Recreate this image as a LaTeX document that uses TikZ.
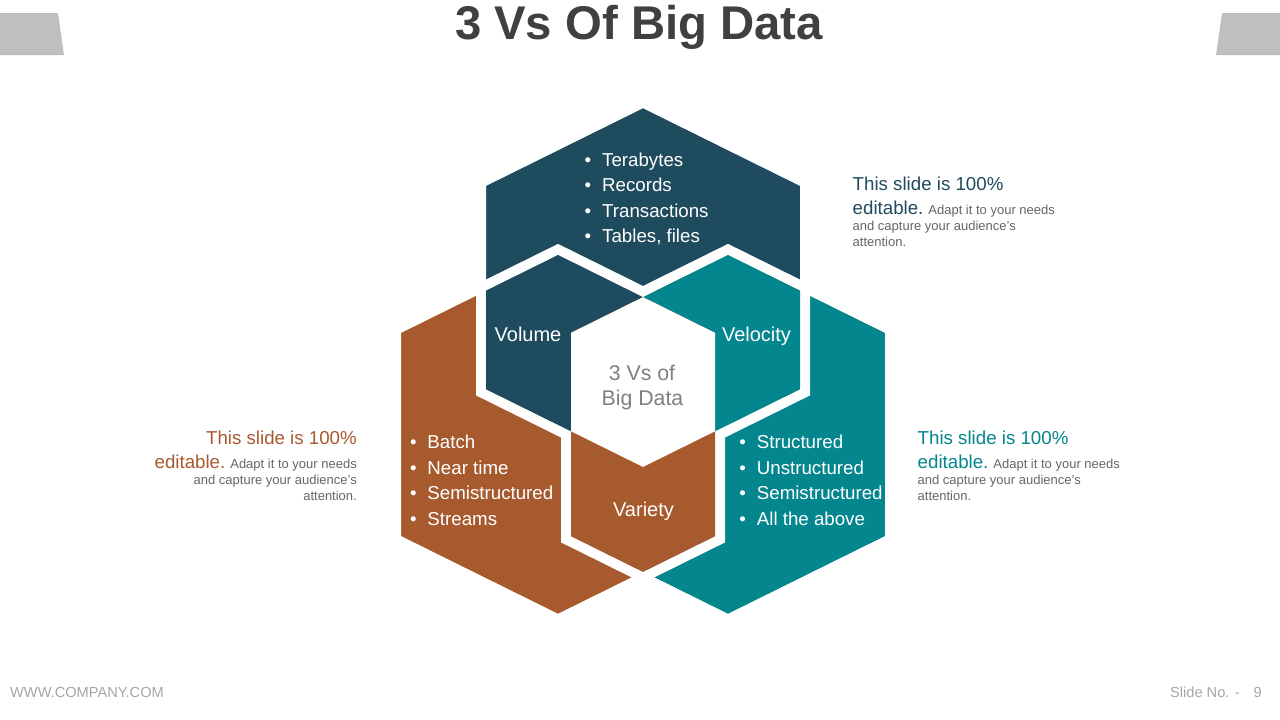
\documentclass[tikz,border=0pt]{standalone}
\usepackage{fontspec}
\setmainfont{Liberation Sans}
\definecolor{vblue}{HTML}{1F4B5E}
\definecolor{vteal}{HTML}{03868E}
\definecolor{vbrown}{HTML}{A85A2F}
\definecolor{titlegray}{HTML}{404040}
\definecolor{descgray}{HTML}{666666}
\definecolor{centergray}{HTML}{808080}
\definecolor{footgray}{HTML}{A6A6A6}
\definecolor{tabgray}{HTML}{BFBFBF}
\tikzset{
  bul/.style={anchor=base west, text=white, inner sep=0pt, font=\fontsize{18.7}{22}\selectfont},
  vlabel/.style={anchor=base, text=white, inner sep=0pt, font=\fontsize{20}{24}\selectfont},
  ctext/.style={anchor=base, text=centergray, inner sep=0pt, font=\fontsize{21.3}{25}\selectfont},
  bigdesc/.style={inner sep=0pt, font=\fontsize{18.7}{22}\selectfont},
  smalldesc/.style={inner sep=0pt, text=descgray, font=\fontsize{13}{16}\selectfont},
  gapline/.style={draw=white, line width=10pt, line join=miter},
  foot/.style={inner sep=0pt, text=footgray, font=\fontsize{14.6}{17}\selectfont},
  tab/.style={fill=tabgray}
}
% true hexagon and hexagon inset by half the gap (5px)
\def\hexat#1#2{(#1,#2-185) -- (#1+162,#2-104.8) -- (#1+162,#2+104.8) -- (#1,#2+185) -- (#1-162,#2+104.8) -- (#1-162,#2-104.8) -- cycle}
\def\hexin#1#2{(#1,#2-179.42) -- (#1+157,#2-101.69) -- (#1+157,#2+101.69) -- (#1,#2+179.42) -- (#1-157,#2+101.69) -- (#1-157,#2-101.69) -- cycle}
\newcommand\bx[1]{\makebox[17.5pt][l]{\textbullet}#1}
\newcommand\editline[2]{{\fontsize{18.7}{22}\selectfont\color{#1}editable.}\hspace{5pt}{\fontsize{13}{16}\selectfont\color{descgray}#2}}
\begin{document}
\begin{tikzpicture}[x=1pt,y=-1pt]
\useasboundingbox (0,0) rectangle (1280,720);
\fill[white] (0,0) rectangle (1280,720);
% header tabs
\fill[tab] (0,13) -- (58,13) -- (64,55) -- (0,55) -- cycle;
\fill[tab] (1222,13) -- (1280,13) -- (1280,55) -- (1216,55) -- cycle;
\node[anchor=base, inner sep=0pt, text=titlegray, font=\fontsize{47.3}{56}\selectfont\bfseries] (title) at (639,39.5) {3 Vs Of Big Data};
% hexagon venn: single-set regions
\fill[vteal] \hexin{728}{434.5};
\fill[vbrown] \hexin{558}{434.5};
\fill[vblue] \hexin{643}{287.5};
\draw[gapline] \hexat{643}{287.5};
\draw[gapline] \hexat{558}{434.5};
\draw[gapline] \hexat{728}{434.5};
% pairwise regions (reaching up to the centre)
\begin{scope}
  \clip \hexin{643}{287.5};
  \clip \hexin{558}{434.5};
  \fill[vblue] (300,100) rectangle (1000,650);
\end{scope}
\begin{scope}
  \clip \hexin{643}{287.5};
  \clip \hexin{728}{434.5};
  \fill[vteal] (300,100) rectangle (1000,650);
\end{scope}
\begin{scope}
  \clip \hexin{558}{434.5};
  \clip \hexin{728}{434.5};
  \fill[vbrown] (300,100) rectangle (1000,650);
  \clip \hexin{643}{287.5};
  \fill[white] (300,100) rectangle (1000,650);
\end{scope}
% bullet lists
\node[bul] (t1) at (584.5,166) {\bx{Terabytes}};
\node[bul] (t2) at (584.5,191.6) {\bx{Records}};
\node[bul] (t3) at (584.5,217.2) {\bx{Transactions}};
\node[bul] (t4) at (584.5,242.8) {\bx{Tables, files}};
\node[bul] (l1) at (409.8,448.3) {\bx{Batch}};
\node[bul] (l2) at (409.8,474.1) {\bx{Near time}};
\node[bul] (l3) at (409.8,499.9) {\bx{Semistructured}};
\node[bul] (l4) at (409.8,525.7) {\bx{Streams}};
\node[bul] (r1) at (739.2,448.3) {\bx{Structured}};
\node[bul] (r2) at (739.2,474.1) {\bx{Unstructured}};
\node[bul] (r3) at (739.2,499.9) {\bx{Semistructured}};
\node[bul] (r4) at (739.2,525.7) {\bx{All the above}};
% labels
\node[vlabel] (volume) at (528,341.7) {Volume};
\node[vlabel] (velocity) at (756.5,341.7) {Velocity};
\node[vlabel] (variety) at (643.5,516.5) {Variety};
\node[ctext] (c1) at (642,380) {3 Vs of};
\node[ctext] (c2) at (642.5,405) {Big Data};
% descriptions: upper right
\node[bigdesc, anchor=base west, text=vblue] (ua) at (852.5,190.7) {This slide is 100\%};
\node[anchor=base west, inner sep=0pt] (ub) at (852.5,214.5) {\editline{vblue}{Adapt it to your needs}};
\node[smalldesc, anchor=base west] (uc) at (852.5,230.5) {and capture your audience’s};
\node[smalldesc, anchor=base west] (ud) at (852.5,246.5) {attention.};
% left
\node[bigdesc, anchor=base east, text=vbrown] (la) at (357,444.7) {This slide is 100\%};
\node[anchor=base east, inner sep=0pt] (lb) at (357,468.5) {\editline{vbrown}{Adapt it to your needs}};
\node[smalldesc, anchor=base east] (lc) at (357,484.5) {and capture your audience’s};
\node[smalldesc, anchor=base east] (ld) at (357,500.5) {attention.};
% right lower
\node[bigdesc, anchor=base west, text=vteal] (ra) at (917.5,444.7) {This slide is 100\%};
\node[anchor=base west, inner sep=0pt] (rb) at (917.5,468.5) {\editline{vteal}{Adapt it to your needs}};
\node[smalldesc, anchor=base west] (rc) at (917.5,484.5) {and capture your audience’s};
\node[smalldesc, anchor=base west] (rd) at (917.5,500.5) {attention.};
% footer
\node[foot, anchor=base west] (url) at (10,697) {WWW.COMPANY.COM};
\node[foot, anchor=base west] (slno) at (1170,697) {Slide No. -};
\node[foot, anchor=base east] (slnum) at (1262,697) {9};
\end{tikzpicture}
\end{document}
